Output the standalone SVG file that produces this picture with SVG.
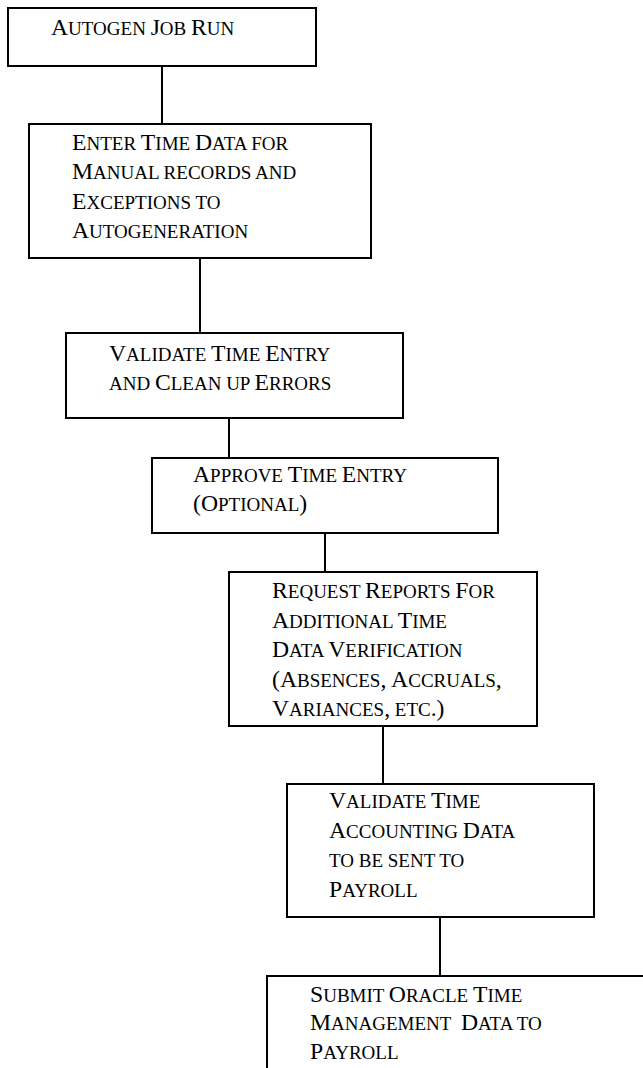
<svg xmlns="http://www.w3.org/2000/svg" width="643" height="1068" viewBox="0 0 643 1068">
<style>
.box{fill:#fff;stroke:#000;stroke-width:2}
.ln{stroke:#000;stroke-width:2;fill:none}
.t{font-family:"Liberation Serif","Times New Roman",serif;font-size:19px;fill:#000}
.C{font-size:23.7px}
</style>
<rect width="643" height="1068" fill="#fff"/>
<g id="connectors">
<line class="ln" x1="162" y1="66" x2="162" y2="124"/>
<line class="ln" x1="200" y1="258" x2="200" y2="333"/>
<line class="ln" x1="229" y1="418" x2="229" y2="458"/>
<line class="ln" x1="325" y1="533" x2="325" y2="572"/>
<line class="ln" x1="383" y1="726" x2="383" y2="784"/>
<line class="ln" x1="440" y1="917" x2="440" y2="976"/>
</g>
<g id="n1">
<rect class="box" x="8" y="8" width="308" height="58"/>
<text class="t" x="51" y="35"><tspan class="C">A</tspan>UTOGEN <tspan class="C">J</tspan>OB <tspan class="C">R</tspan>UN</text>
</g>
<g id="n2">
<rect class="box" x="29" y="124" width="342" height="134"/>
<text class="t" x="72" y="149.5"><tspan class="C">E</tspan>NTER <tspan class="C">T</tspan>IME <tspan class="C">D</tspan>ATA FOR</text>
<text class="t" x="72" y="179"><tspan class="C">M</tspan>ANUAL RECORDS AND</text>
<text class="t" x="72" y="208.5"><tspan class="C">E</tspan>XCEPTIONS TO</text>
<text class="t" x="72" y="238"><tspan class="C">A</tspan>UTOGENERATION</text>
</g>
<g id="n3">
<rect class="box" x="66" y="333" width="337" height="85"/>
<text class="t" x="109" y="361"><tspan class="C">V</tspan>ALIDATE <tspan class="C">T</tspan>IME <tspan class="C">E</tspan>NTRY</text>
<text class="t" x="109" y="389.5">AND <tspan class="C">C</tspan>LEAN UP <tspan class="C">E</tspan>RRORS</text>
</g>
<g id="n4">
<rect class="box" x="152" y="458" width="346" height="75"/>
<text class="t" x="193" y="482"><tspan class="C">A</tspan>PPROVE <tspan class="C">T</tspan>IME <tspan class="C">E</tspan>NTRY</text>
<text class="t" x="193" y="511"><tspan class="C">(O</tspan>PTIONAL<tspan class="C">)</tspan></text>
</g>
<g id="n5">
<rect class="box" x="229" y="572" width="308" height="154"/>
<text class="t" x="272" y="598"><tspan class="C">R</tspan>EQUEST <tspan class="C">R</tspan>EPORTS <tspan class="C">F</tspan>OR</text>
<text class="t" x="272" y="627.5"><tspan class="C">A</tspan>DDITIONAL <tspan class="C">T</tspan>IME</text>
<text class="t" x="272" y="657"><tspan class="C">D</tspan>ATA <tspan class="C">V</tspan>ERIFICATION</text>
<text class="t" x="272" y="686.5"><tspan class="C">(A</tspan>BSENCES<tspan class="C">,</tspan> <tspan class="C">A</tspan>CCRUALS<tspan class="C">,</tspan></text>
<text class="t" x="272" y="716"><tspan class="C">V</tspan>ARIANCES<tspan class="C">,</tspan> ETC<tspan class="C">.)</tspan></text>
</g>
<g id="n6">
<rect class="box" x="287" y="784" width="307" height="133"/>
<text class="t" x="329" y="808"><tspan class="C">V</tspan>ALIDATE <tspan class="C">T</tspan>IME</text>
<text class="t" x="329" y="837.5"><tspan class="C">A</tspan>CCOUNTING <tspan class="C">D</tspan>ATA</text>
<text class="t" x="329" y="867">TO BE SENT TO</text>
<text class="t" x="329" y="896.5"><tspan class="C">P</tspan>AYROLL</text>
</g>
<g id="n7">
<rect class="box" x="267" y="976" width="390" height="110"/>
<text class="t" x="310" y="1002"><tspan class="C">S</tspan>UBMIT <tspan class="C">O</tspan>RACLE <tspan class="C">T</tspan>IME</text>
<text class="t" x="310" y="1030"><tspan class="C">M</tspan>ANAGEMENT&#160; <tspan class="C">D</tspan>ATA TO</text>
<text class="t" x="310" y="1059"><tspan class="C">P</tspan>AYROLL</text>
</g>
</svg>
